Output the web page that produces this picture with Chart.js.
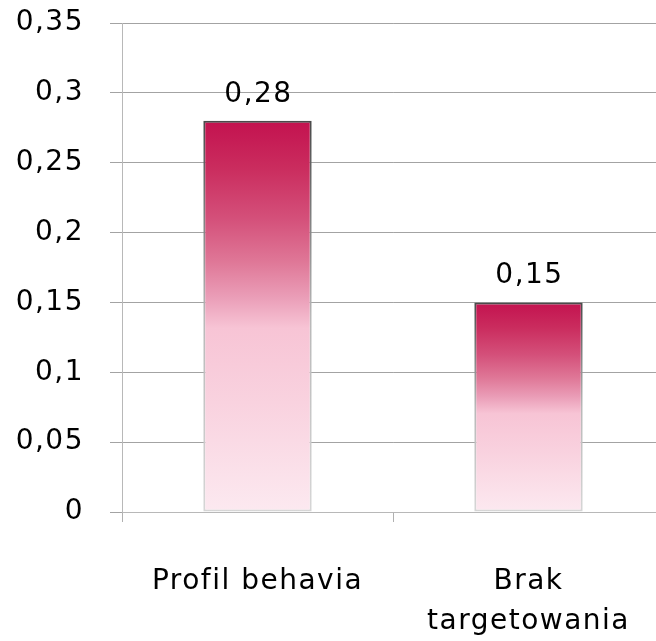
<!DOCTYPE html>
<html>
<head>
<meta charset="utf-8">
<script src="https://cdn.jsdelivr.net/npm/chart.js@4.4.1/dist/chart.umd.min.js"></script>
<style>
  html, body { margin: 0; padding: 0; background: #fff; overflow: hidden; width: 656px; height: 641px; }
  canvas { display: block; }
</style>
</head>
<body>
<canvas id="c" width="664" height="641"></canvas>
<script>
const categories = [["Profil behavia"], ["Brak", "targetowania"]];
const values = [0.28, 0.15];
const valueLabels = ["0,28", "0,15"];
const yTickLabels = ["0", "0,05", "0,1", "0,15", "0,2", "0,25", "0,3", "0,35"];

const FONT = { family: "'DejaVu Sans', sans-serif", size: 28 };

const gradientStops = [
  [0, '#C3124F'], [0.12, '#CA2C5E'], [0.25, '#D4507A'], [0.36, '#DF7797'],
  [0.45, '#EA9DB7'], [0.53, '#F7C4D5'], [0.72, '#F9D2DF'], [1, '#FCE9F0']
];

function barGradient(ctx, stops) {
  const chart = ctx.chart;
  if (!chart.chartArea) return stops[0][1];
  const y = chart.scales.y;
  const top = y.getPixelForValue(ctx.raw);
  const bottom = y.getPixelForValue(0);
  const g = chart.ctx.createLinearGradient(0, top, 0, bottom);
  stops.forEach(s => g.addColorStop(s[0], s[1]));
  return g;
}

const spacingPlugin = {
  id: 'spacing',
  beforeDraw(chart) { chart.ctx.letterSpacing = '1.5px'; }
};

const valueLabelPlugin = {
  id: 'valueLabels',
  afterDraw(chart) {
    const ctx = chart.ctx;
    const meta = chart.getDatasetMeta(0);
    ctx.save();
    ctx.letterSpacing = '1.5px';
    ctx.font = `${FONT.size}px ${FONT.family}`;
    ctx.fillStyle = '#000';
    ctx.textAlign = 'center';
    ctx.textBaseline = 'alphabetic';
    meta.data.forEach((bar, i) => {
      ctx.fillText(valueLabels[i], bar.x + 1, bar.y - 19);
    });
    ctx.restore();
  }
};

new Chart(document.getElementById('c'), {
  type: 'bar',
  data: {
    labels: categories,
    datasets: [{
      data: values,
      backgroundColor: (ctx) => barGradient(ctx, gradientStops),
      borderColor: (ctx) => barGradient(ctx, [[0, '#4a4a4a'], [0.5, '#b8b8b8'], [1, '#d6d6d6']]),
      borderWidth: 2,
      borderSkipped: false,
      barPercentage: 0.4,
      categoryPercentage: 1.0
    }]
  },
  options: {
    responsive: false,
    animation: false,
    devicePixelRatio: 1,
    layout: { padding: { top: 23, left: 0, right: 0, bottom: 0 } },
    plugins: { legend: { display: false }, tooltip: { enabled: false } },
    scales: {
      x: {
        offset: true,
        grid: { display: true, drawOnChartArea: false, drawTicks: true, tickLength: 10, color: '#b0b0b0', offset: true },
        border: { display: true, color: '#b8b8b8', width: 1 },
        ticks: { color: '#000', font: { ...FONT, lineHeight: 1.43 }, padding: 40, maxRotation: 0, autoSkip: false },
        afterFit(scale) { scale.height = 129; scale.paddingLeft = 0; scale.paddingRight = 0; }
      },
      y: {
        min: 0, max: 0.35,
        z: 1,
        grid: { color: 'rgba(0,0,0,0.36)', tickLength: 12, drawTicks: true, lineWidth: 1 },
        border: { display: true, color: '#b8b8b8', width: 1 },
        ticks: {
          stepSize: 0.05, color: '#000', font: FONT, padding: 26,
          callback: (v, i) => yTickLabels[i]
        },
        afterFit(scale) { scale.width = 122; scale.paddingTop = 0; scale.paddingBottom = 0; }
      }
    }
  },
  plugins: [spacingPlugin, valueLabelPlugin]
});
</script>
</body>
</html>
